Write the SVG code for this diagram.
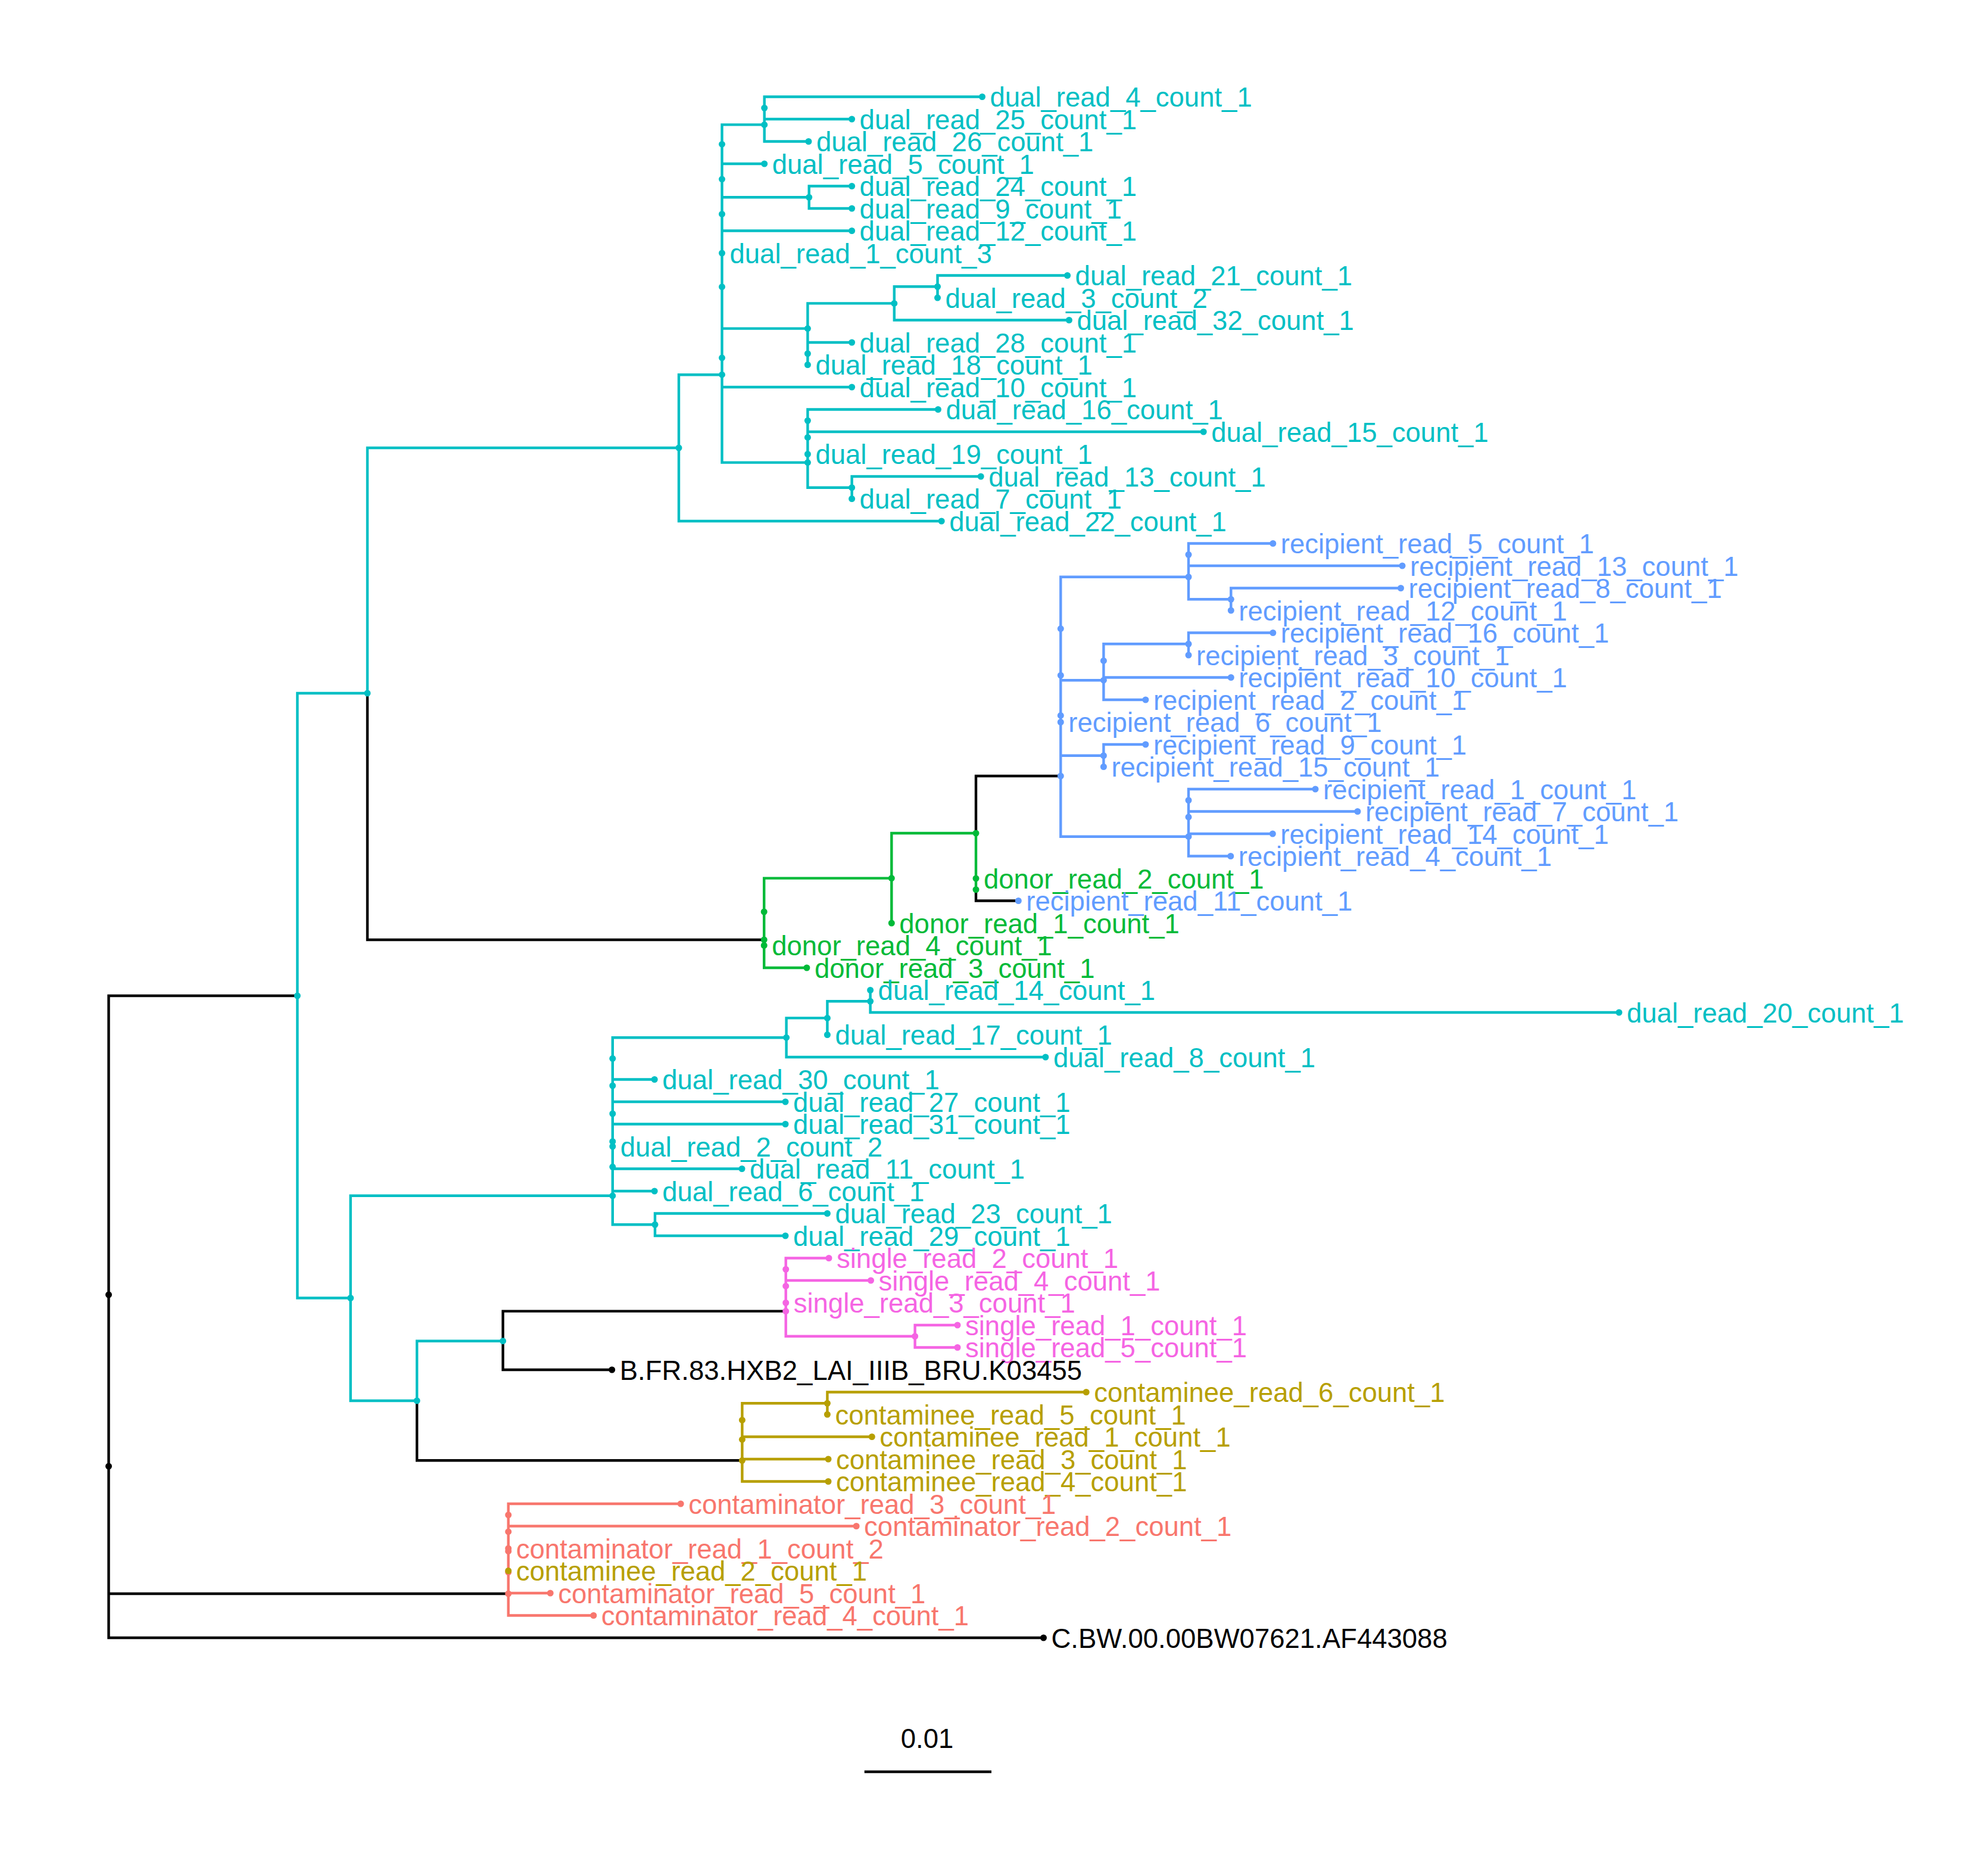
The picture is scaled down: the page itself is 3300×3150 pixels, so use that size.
<svg xmlns="http://www.w3.org/2000/svg" width="3300" height="3150" viewBox="0 0 3300 3150">
<style>
.br{fill:none;stroke-width:4.4;stroke-linecap:square}
.br.k{stroke:#000000}.br.c{stroke:#00BFC4}.br.g{stroke:#00BA38}.br.b{stroke:#619CFF}.br.p{stroke:#F564E3}.br.o{stroke:#B79F00}.br.s{stroke:#F8766D}
.nk{fill:#000000}.nc{fill:#00BFC4}.ng{fill:#00BA38}.nb{fill:#619CFF}.np{fill:#F564E3}.no{fill:#B79F00}.ns{fill:#F8766D}
text{font-family:"Liberation Sans",Arial,Helvetica,sans-serif;font-size:45.5px}
</style>
<rect x="0" y="0" width="3300" height="3150" fill="#ffffff"/>
<g id="connectors">
<path class="br c" d="M499.4,1164 V2179.5 M499.4,1164 H617 M499.4,2179.5 H588.7 M617,752 V1164 M617,752 H1140 M1140,629.2 V875 H1581.2 M1140,629.2 H1212.5 M1212.5,209.4 V776.6 M1212.5,209.4 H1283.7 M1212.5,275 H1283.7 M1212.5,331.25 H1358.7 M1212.5,387.5 H1430.6 M1212.5,551.6 H1356.4 M1212.5,650 H1430.6 M1212.5,776.6 H1356.4 M1283.7,162.5 V237.5 M1283.7,162.5 H1649.5 M1283.7,200 H1430.6 M1283.7,237.5 H1357.9 M1358.7,312.5 V350 M1358.7,312.5 H1430.6 M1358.7,350 H1430.6 M1356.4,509.4 V612.5 M1356.4,509.4 H1501.8 M1356.4,575 H1430.6 M1501.8,481.25 V537.5 M1501.8,481.25 H1574.5 M1501.8,537.5 H1795.4 M1574.5,462.5 V500 M1574.5,462.5 H1792.6 M1356.4,687.5 V818.75 M1356.4,687.5 H1575.4 M1356.4,725 H2021.2 M1356.4,818.75 H1430.6 M1430.6,800 V837.5 M1430.6,800 H1647.2 M588.7,2007.8 V2352 M588.7,2007.8 H1028.8 M588.7,2352 H700.2 M700.2,2251.7 V2352 M700.2,2251.7 H844.6 M1028.8,1742.2 V2056.25 M1028.8,1742.2 H1320.6 M1028.8,1812.5 H1099.2 M1028.8,1850 H1319 M1028.8,1887.5 H1319 M1028.8,1962.5 H1246 M1028.8,2000 H1099.2 M1028.8,2056.25 H1100 M1320.6,1709.4 V1775 M1320.6,1709.4 H1389.4 M1320.6,1775 H1755.9 M1389.4,1681.25 V1737.5 M1389.4,1681.25 H1461.6 M1461.6,1662.5 V1700 M1461.6,1700 H2719 M1100,2037.5 V2075 M1100,2037.5 H1389.4 M1100,2075 H1319"/>
<path class="br k" d="M182.5,1672 V2750 M182.5,1672 H499.4 M182.5,2676 H853.7 M182.5,2750 H1752.5 M617,1164 V1578 H1283.2 M1639,1303 V1399 M1639,1493.75 V1512.5 H1710.3 M1639,1303 H1781.3 M700.2,2352 V2452.3 H1246.4 M844.6,2201.6 V2300 H1027.7 M844.6,2201.6 H1319.7"/>
<path class="br g" d="M1283.2,1474.6 V1625 M1283.2,1474.6 H1497.3 M1283.2,1625 H1354.9 M1497.3,1399 V1550 M1497.3,1399 H1639 M1639,1399 V1493.75"/>
<path class="br b" d="M1781.3,968.75 V1404.7 M1781.3,968.75 H1996 M1781.3,1142.2 H1853.4 M1781.3,1268.75 H1853.4 M1781.3,1404.7 H1996 M1996,912.5 V1006.25 M1996,912.5 H2137.8 M1996,950 H2355 M1996,1006.25 H2067.3 M2067.3,987.5 V1025 M2067.3,987.5 H2352.5 M1853.4,1081.25 V1175 M1853.4,1081.25 H1996 M1853.4,1137.5 H2067.3 M1853.4,1175 H1923.9 M1996,1062.5 V1100 M1996,1062.5 H2137.8 M1853.4,1250 V1287.5 M1853.4,1250 H1923.9 M1996,1325 V1437.5 M1996,1325 H2209 M1996,1362.5 H2279.9 M1996,1400 H2137.3 M1996,1437.5 H2066.8"/>
<path class="br p" d="M1319.7,2112.5 V2243.75 M1319.7,2112.5 H1392 M1319.7,2150 H1462.5 M1319.7,2243.75 H1536.6 M1536.6,2225 V2262.5 M1536.6,2225 H1608 M1536.6,2262.5 H1608"/>
<path class="br o" d="M1246.4,2356.25 V2487.5 M1246.4,2356.25 H1389.4 M1246.4,2412.5 H1464.3 M1246.4,2450 H1391 M1246.4,2487.5 H1391 M1389.4,2337.5 V2375 M1389.4,2337.5 H1824.2"/>
<path class="br s" d="M853.7,2525 V2712.5 M853.7,2525 H1143.2 M853.7,2562.5 H1438.1 M853.7,2675 H924.2 M853.7,2712.5 H996.8"/>
</g>
<g id="internal-nodes">
<g id="node_root" class="nk"><circle cx="182.5" cy="2174" r="5.5"/><circle cx="182.5" cy="2462" r="5.5"/></g>
<g id="node_Q" class="nc"><circle cx="499.4" cy="1672" r="5.5"/></g>
<g id="node_P" class="nc"><circle cx="617" cy="1164" r="5.5"/></g>
<g id="node_F" class="nc"><circle cx="1140" cy="752" r="5.5"/></g>
<g id="node_M1" class="nc"><circle cx="1212.5" cy="242.2" r="5.5"/><circle cx="1212.5" cy="300.8" r="5.5"/><circle cx="1212.5" cy="359.4" r="5.5"/><circle cx="1212.5" cy="481.7" r="5.5"/><circle cx="1212.5" cy="600.8" r="5.5"/><circle cx="1212.5" cy="629.2" r="5.5"/></g>
<g id="node_A1" class="nc"><circle cx="1283.7" cy="181.25" r="5.5"/><circle cx="1283.7" cy="209.4" r="5.5"/></g>
<g id="node_B1" class="nc"><circle cx="1358.7" cy="331.25" r="5.5"/></g>
<g id="node_E1" class="nc"><circle cx="1356.4" cy="551.6" r="5.5"/><circle cx="1356.4" cy="593.75" r="5.5"/></g>
<g id="node_D1" class="nc"><circle cx="1501.8" cy="509.4" r="5.5"/></g>
<g id="node_C1" class="nc"><circle cx="1574.5" cy="481.25" r="5.5"/></g>
<g id="node_G" class="nc"><circle cx="1356.4" cy="706.25" r="5.5"/><circle cx="1356.4" cy="734.4" r="5.5"/><circle cx="1356.4" cy="776.6" r="5.5"/></g>
<g id="node_H" class="nc"><circle cx="1430.6" cy="818.75" r="5.5"/></g>
<g id="node_D0" class="ng"><circle cx="1283.2" cy="1531" r="5.5"/><circle cx="1283.2" cy="1578" r="5.5"/></g>
<g id="node_D2" class="ng"><circle cx="1497.3" cy="1474.6" r="5.5"/></g>
<g id="node_N1" class="ng"><circle cx="1639" cy="1399" r="5.5"/><circle cx="1639" cy="1493.75" r="5.5"/></g>
<g id="node_RR" class="nb"><circle cx="1781.3" cy="1055.6" r="5.5"/><circle cx="1781.3" cy="1134" r="5.5"/><circle cx="1781.3" cy="1201.4" r="5.5"/><circle cx="1781.3" cy="1303" r="5.5"/></g>
<g id="node_R1" class="nb"><circle cx="1996" cy="931.25" r="5.5"/><circle cx="1996" cy="968.75" r="5.5"/></g>
<g id="node_R2" class="nb"><circle cx="2067.3" cy="1006.25" r="5.5"/></g>
<g id="node_R3" class="nb"><circle cx="1853.4" cy="1109.4" r="5.5"/><circle cx="1853.4" cy="1142.2" r="5.5"/></g>
<g id="node_R4" class="nb"><circle cx="1996" cy="1081.25" r="5.5"/></g>
<g id="node_R5" class="nb"><circle cx="1853.4" cy="1268.75" r="5.5"/></g>
<g id="node_R6" class="nb"><circle cx="1996" cy="1343.75" r="5.5"/><circle cx="1996" cy="1371.9" r="5.5"/><circle cx="1996" cy="1404.7" r="5.5"/></g>
<g id="node_R" class="nc"><circle cx="588.7" cy="2179.5" r="5.5"/></g>
<g id="node_L0" class="nc"><circle cx="1028.8" cy="1777.3" r="5.5"/><circle cx="1028.8" cy="1823" r="5.5"/><circle cx="1028.8" cy="1870" r="5.5"/><circle cx="1028.8" cy="1916.7" r="5.5"/><circle cx="1028.8" cy="1959.3" r="5.5"/><circle cx="1028.8" cy="2007.8" r="5.5"/></g>
<g id="node_L1" class="nc"><circle cx="1320.6" cy="1742.2" r="5.5"/></g>
<g id="node_L2" class="nc"><circle cx="1389.4" cy="1709.4" r="5.5"/></g>
<g id="node_L3" class="nc"><circle cx="1461.6" cy="1681.25" r="5.5"/></g>
<g id="node_L4" class="nc"><circle cx="1100" cy="2056.25" r="5.5"/></g>
<g id="node_S" class="nc"><circle cx="700.2" cy="2352" r="5.5"/></g>
<g id="node_T" class="nc"><circle cx="844.6" cy="2251.7" r="5.5"/></g>
<g id="node_U" class="np"><circle cx="1319.7" cy="2131.25" r="5.5"/><circle cx="1319.7" cy="2159.4" r="5.5"/><circle cx="1319.7" cy="2201.6" r="5.5"/></g>
<g id="node_U2" class="np"><circle cx="1536.6" cy="2243.75" r="5.5"/></g>
<g id="node_V" class="no"><circle cx="1246.4" cy="2384.4" r="5.5"/><circle cx="1246.4" cy="2417.2" r="5.5"/><circle cx="1246.4" cy="2452.3" r="5.5"/></g>
<g id="node_V1" class="no"><circle cx="1389.4" cy="2356.25" r="5.5"/></g>
<g id="node_W" class="ns"><circle cx="853.7" cy="2543.75" r="5.5"/><circle cx="853.7" cy="2571.9" r="5.5"/><circle cx="853.7" cy="2604.7" r="5.5"/><circle cx="853.7" cy="2639.8" r="5.5"/><circle cx="853.7" cy="2676" r="5.5"/></g>
</g>
<g id="tips">
<g id="tip1" class="nc"><circle cx="1649.5" cy="162.5" r="5.5"/><text x="1662.5" y="179">dual_read_4_count_1</text></g>
<g id="tip2" class="nc"><circle cx="1430.6" cy="200" r="5.5"/><text x="1443.6" y="216.5">dual_read_25_count_1</text></g>
<g id="tip3" class="nc"><circle cx="1357.9" cy="237.5" r="5.5"/><text x="1370.9" y="254">dual_read_26_count_1</text></g>
<g id="tip4" class="nc"><circle cx="1283.7" cy="275" r="5.5"/><text x="1296.7" y="291.5">dual_read_5_count_1</text></g>
<g id="tip5" class="nc"><circle cx="1430.6" cy="312.5" r="5.5"/><text x="1443.6" y="329">dual_read_24_count_1</text></g>
<g id="tip6" class="nc"><circle cx="1430.6" cy="350" r="5.5"/><text x="1443.6" y="366.5">dual_read_9_count_1</text></g>
<g id="tip7" class="nc"><circle cx="1430.6" cy="387.5" r="5.5"/><text x="1443.6" y="404">dual_read_12_count_1</text></g>
<g id="tip8" class="nc"><circle cx="1212.5" cy="425" r="5.5"/><text x="1225.5" y="441.5">dual_read_1_count_3</text></g>
<g id="tip9" class="nc"><circle cx="1792.6" cy="462.5" r="5.5"/><text x="1805.6" y="479">dual_read_21_count_1</text></g>
<g id="tip10" class="nc"><circle cx="1574.5" cy="500" r="5.5"/><text x="1587.5" y="516.5">dual_read_3_count_2</text></g>
<g id="tip11" class="nc"><circle cx="1795.4" cy="537.5" r="5.5"/><text x="1808.4" y="554">dual_read_32_count_1</text></g>
<g id="tip12" class="nc"><circle cx="1430.6" cy="575" r="5.5"/><text x="1443.6" y="591.5">dual_read_28_count_1</text></g>
<g id="tip13" class="nc"><circle cx="1356.4" cy="612.5" r="5.5"/><text x="1369.4" y="629">dual_read_18_count_1</text></g>
<g id="tip14" class="nc"><circle cx="1430.6" cy="650" r="5.5"/><text x="1443.6" y="666.5">dual_read_10_count_1</text></g>
<g id="tip15" class="nc"><circle cx="1575.4" cy="687.5" r="5.5"/><text x="1588.4" y="704">dual_read_16_count_1</text></g>
<g id="tip16" class="nc"><circle cx="2021.2" cy="725" r="5.5"/><text x="2034.2" y="741.5">dual_read_15_count_1</text></g>
<g id="tip17" class="nc"><circle cx="1356.4" cy="762.5" r="5.5"/><text x="1369.4" y="779">dual_read_19_count_1</text></g>
<g id="tip18" class="nc"><circle cx="1647.2" cy="800" r="5.5"/><text x="1660.2" y="816.5">dual_read_13_count_1</text></g>
<g id="tip19" class="nc"><circle cx="1430.6" cy="837.5" r="5.5"/><text x="1443.6" y="854">dual_read_7_count_1</text></g>
<g id="tip20" class="nc"><circle cx="1581.2" cy="875" r="5.5"/><text x="1594.2" y="891.5">dual_read_22_count_1</text></g>
<g id="tip21" class="nb"><circle cx="2137.8" cy="912.5" r="5.5"/><text x="2150.8" y="929">recipient_read_5_count_1</text></g>
<g id="tip22" class="nb"><circle cx="2355" cy="950" r="5.5"/><text x="2368" y="966.5">recipient_read_13_count_1</text></g>
<g id="tip23" class="nb"><circle cx="2352.5" cy="987.5" r="5.5"/><text x="2365.5" y="1004">recipient_read_8_count_1</text></g>
<g id="tip24" class="nb"><circle cx="2067.3" cy="1025" r="5.5"/><text x="2080.3" y="1041.5">recipient_read_12_count_1</text></g>
<g id="tip25" class="nb"><circle cx="2137.8" cy="1062.5" r="5.5"/><text x="2150.8" y="1079">recipient_read_16_count_1</text></g>
<g id="tip26" class="nb"><circle cx="1996" cy="1100" r="5.5"/><text x="2009" y="1116.5">recipient_read_3_count_1</text></g>
<g id="tip27" class="nb"><circle cx="2067.3" cy="1137.5" r="5.5"/><text x="2080.3" y="1154">recipient_read_10_count_1</text></g>
<g id="tip28" class="nb"><circle cx="1923.9" cy="1175" r="5.5"/><text x="1936.9" y="1191.5">recipient_read_2_count_1</text></g>
<g id="tip29" class="nb"><circle cx="1781.3" cy="1212.5" r="5.5"/><text x="1794.3" y="1229">recipient_read_6_count_1</text></g>
<g id="tip30" class="nb"><circle cx="1923.9" cy="1250" r="5.5"/><text x="1936.9" y="1266.5">recipient_read_9_count_1</text></g>
<g id="tip31" class="nb"><circle cx="1853.4" cy="1287.5" r="5.5"/><text x="1866.4" y="1304">recipient_read_15_count_1</text></g>
<g id="tip32" class="nb"><circle cx="2209" cy="1325" r="5.5"/><text x="2222" y="1341.5">recipient_read_1_count_1</text></g>
<g id="tip33" class="nb"><circle cx="2279.9" cy="1362.5" r="5.5"/><text x="2292.9" y="1379">recipient_read_7_count_1</text></g>
<g id="tip34" class="nb"><circle cx="2137.3" cy="1400" r="5.5"/><text x="2150.3" y="1416.5">recipient_read_14_count_1</text></g>
<g id="tip35" class="nb"><circle cx="2066.8" cy="1437.5" r="5.5"/><text x="2079.8" y="1454">recipient_read_4_count_1</text></g>
<g id="tip36" class="ng"><circle cx="1639" cy="1475" r="5.5"/><text x="1652" y="1491.5">donor_read_2_count_1</text></g>
<g id="tip37" class="nb"><circle cx="1710.3" cy="1512.5" r="5.5"/><text x="1723.3" y="1529">recipient_read_11_count_1</text></g>
<g id="tip38" class="ng"><circle cx="1497.3" cy="1550" r="5.5"/><text x="1510.3" y="1566.5">donor_read_1_count_1</text></g>
<g id="tip39" class="ng"><circle cx="1283.2" cy="1587.5" r="5.5"/><text x="1296.2" y="1604">donor_read_4_count_1</text></g>
<g id="tip40" class="ng"><circle cx="1354.9" cy="1625" r="5.5"/><text x="1367.9" y="1641.5">donor_read_3_count_1</text></g>
<g id="tip41" class="nc"><circle cx="1461.6" cy="1662.5" r="5.5"/><text x="1474.6" y="1679">dual_read_14_count_1</text></g>
<g id="tip42" class="nc"><circle cx="2719" cy="1700" r="5.5"/><text x="2732" y="1716.5">dual_read_20_count_1</text></g>
<g id="tip43" class="nc"><circle cx="1389.4" cy="1737.5" r="5.5"/><text x="1402.4" y="1754">dual_read_17_count_1</text></g>
<g id="tip44" class="nc"><circle cx="1755.9" cy="1775" r="5.5"/><text x="1768.9" y="1791.5">dual_read_8_count_1</text></g>
<g id="tip45" class="nc"><circle cx="1099.2" cy="1812.5" r="5.5"/><text x="1112.2" y="1829">dual_read_30_count_1</text></g>
<g id="tip46" class="nc"><circle cx="1319" cy="1850" r="5.5"/><text x="1332" y="1866.5">dual_read_27_count_1</text></g>
<g id="tip47" class="nc"><circle cx="1319" cy="1887.5" r="5.5"/><text x="1332" y="1904">dual_read_31_count_1</text></g>
<g id="tip48" class="nc"><circle cx="1028.8" cy="1925" r="5.5"/><text x="1041.8" y="1941.5">dual_read_2_count_2</text></g>
<g id="tip49" class="nc"><circle cx="1246" cy="1962.5" r="5.5"/><text x="1259" y="1979">dual_read_11_count_1</text></g>
<g id="tip50" class="nc"><circle cx="1099.2" cy="2000" r="5.5"/><text x="1112.2" y="2016.5">dual_read_6_count_1</text></g>
<g id="tip51" class="nc"><circle cx="1389.4" cy="2037.5" r="5.5"/><text x="1402.4" y="2054">dual_read_23_count_1</text></g>
<g id="tip52" class="nc"><circle cx="1319" cy="2075" r="5.5"/><text x="1332" y="2091.5">dual_read_29_count_1</text></g>
<g id="tip53" class="np"><circle cx="1392" cy="2112.5" r="5.5"/><text x="1405" y="2129">single_read_2_count_1</text></g>
<g id="tip54" class="np"><circle cx="1462.5" cy="2150" r="5.5"/><text x="1475.5" y="2166.5">single_read_4_count_1</text></g>
<g id="tip55" class="np"><circle cx="1319.7" cy="2187.5" r="5.5"/><text x="1332.7" y="2204">single_read_3_count_1</text></g>
<g id="tip56" class="np"><circle cx="1608" cy="2225" r="5.5"/><text x="1621" y="2241.5">single_read_1_count_1</text></g>
<g id="tip57" class="np"><circle cx="1608" cy="2262.5" r="5.5"/><text x="1621" y="2279">single_read_5_count_1</text></g>
<g id="tip58" class="nk"><circle cx="1027.7" cy="2300" r="5.5"/><text x="1040.7" y="2316.5">B.FR.83.HXB2_LAI_IIIB_BRU.K03455</text></g>
<g id="tip59" class="no"><circle cx="1824.2" cy="2337.5" r="5.5"/><text x="1837.2" y="2354">contaminee_read_6_count_1</text></g>
<g id="tip60" class="no"><circle cx="1389.4" cy="2375" r="5.5"/><text x="1402.4" y="2391.5">contaminee_read_5_count_1</text></g>
<g id="tip61" class="no"><circle cx="1464.3" cy="2412.5" r="5.5"/><text x="1477.3" y="2429">contaminee_read_1_count_1</text></g>
<g id="tip62" class="no"><circle cx="1391" cy="2450" r="5.5"/><text x="1404" y="2466.5">contaminee_read_3_count_1</text></g>
<g id="tip63" class="no"><circle cx="1391" cy="2487.5" r="5.5"/><text x="1404" y="2504">contaminee_read_4_count_1</text></g>
<g id="tip64" class="ns"><circle cx="1143.2" cy="2525" r="5.5"/><text x="1156.2" y="2541.5">contaminator_read_3_count_1</text></g>
<g id="tip65" class="ns"><circle cx="1438.1" cy="2562.5" r="5.5"/><text x="1451.1" y="2579">contaminator_read_2_count_1</text></g>
<g id="tip66" class="ns"><circle cx="853.7" cy="2600" r="5.5"/><text x="866.7" y="2616.5">contaminator_read_1_count_2</text></g>
<g id="tip67" class="no"><circle cx="853.7" cy="2637.5" r="5.5"/><text x="866.7" y="2654">contaminee_read_2_count_1</text></g>
<g id="tip68" class="ns"><circle cx="924.2" cy="2675" r="5.5"/><text x="937.2" y="2691.5">contaminator_read_5_count_1</text></g>
<g id="tip69" class="ns"><circle cx="996.8" cy="2712.5" r="5.5"/><text x="1009.8" y="2729">contaminator_read_4_count_1</text></g>
<g id="tip70" class="nk"><circle cx="1752.5" cy="2750" r="5.5"/><text x="1765.5" y="2766.5">C.BW.00.00BW07621.AF443088</text></g>
</g>
<g id="scale-bar">
<line x1="1451.7" y1="2975" x2="1665" y2="2975" stroke="#000000" stroke-width="4.5"/>
<text x="1557" y="2935" text-anchor="middle" class="nk">0.01</text>
</g>
</svg>
